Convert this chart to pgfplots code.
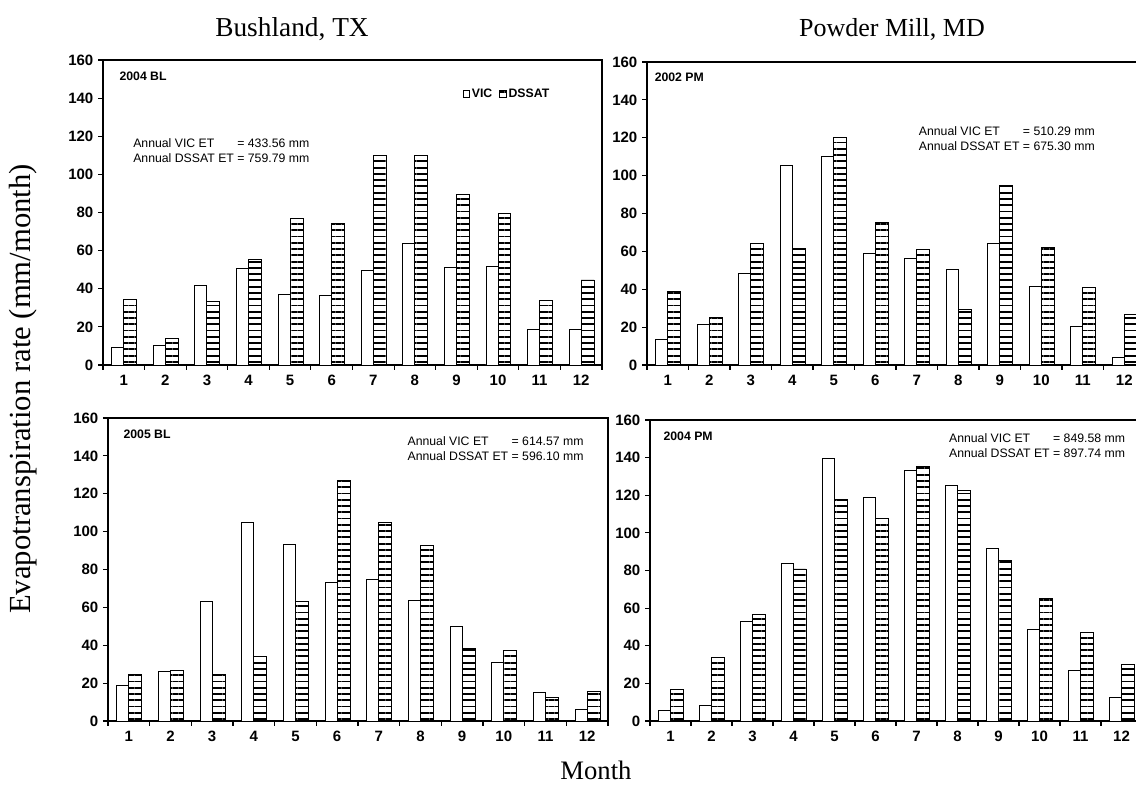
\documentclass[border=0pt]{standalone}
\usepackage{fontspec}
\setmainfont{Liberation Serif}
\newfontfamily\arial{Liberation Sans}
\usepackage{pgfplots}
\pgfplotsset{compat=1.18}
\usetikzlibrary{patterns.meta}

\newcommand\txt[4][]{\node[inner sep=0pt,#1] at ({#2*0.75pt},{(788-#3)*0.75pt}) {#4};}
\newcommand\annfont{\arial\fontsize{9.2}{11.25}\selectfont}
\newcommand\labfont{\arial\bfseries\fontsize{9.2}{11.25}\selectfont}

\pgfplotsset{
  panel/.style={
    scale only axis,
    xmin=0.5, xmax=12.5, ymin=0, ymax=160,
    xtick={0.5,1.5,2.5,3.5,4.5,5.5,6.5,7.5,8.5,9.5,10.5,11.5,12.5},
    x tick label as interval,
    xticklabels={1,2,3,4,5,6,7,8,9,10,11,12},
    ytick={0,20,40,60,80,100,120,140,160},
    xtick pos=bottom, ytick pos=left,
    tick align=outside,
    major tick length=3.75pt,
    every tick/.style={black, line width=0.8pt},
    axis line style={black, line width=0.8pt},
    /pgf/number format/assume math mode=true,
    ticklabel style={font=\arial\bfseries\fontsize{11.25}{13}\selectfont},
    clip=false,
  },
  vic/.style={ybar, bar width=0.29, bar shift=-0.145, fill=white, draw=black, line width=0.7pt},
  dssat/.style={ybar, bar width=0.31, bar shift=0.155, draw=black, line width=0.7pt,
    pattern={Lines[angle=0,distance=4.7pt,line width=1.4pt]}, pattern color=black},
}

\begin{document}
\begin{tikzpicture}
\useasboundingbox (0,0) rectangle (852pt,591pt);
\clip (0,0) rectangle (852pt,591pt);

% Top-left: 2004 BL
\begin{axis}[panel, at={(77.25pt,317.25pt)}, anchor=south west, width=374.25pt, height=228.75pt,
  legend style={draw=none, fill=none, at={(0.712,0.8885)}, anchor=west, legend columns=2,
    font=\labfont, nodes={inner sep=1.2pt},
    /tikz/every even column/.append style={column sep=4pt}},
  legend image code/.code={\draw[#1, draw=black, line width=0.6pt] (0pt,-2.6pt) rectangle (5.2pt,2.6pt);}]
\addplot[vic] coordinates {(1,9.3) (2,10.0) (3,41.6) (4,50.4) (5,37.1) (6,36.4) (7,49.5) (8,63.5) (9,51.3) (10,51.6) (11,18.7) (12,18.4)};
\addplot[dssat] coordinates {(1,34.5) (2,14.0) (3,33.2) (4,55.1) (5,77.0) (6,74.5) (7,109.8) (8,109.8) (9,89.4) (10,79.7) (11,33.8) (12,44.6)};
\legend{VIC,DSSAT}
\end{axis}

% Top-right: 2002 PM
\begin{axis}[panel, at={(485.25pt,317.25pt)}, anchor=south west, width=373.5pt, height=227.25pt]
\addplot[vic] coordinates {(1,13.6) (2,21.3) (3,48.2) (4,105.3) (5,110.1) (6,58.9) (7,56.3) (8,50.3) (9,64.0) (10,41.5) (11,20.6) (12,3.9)};
\addplot[dssat] coordinates {(1,38.6) (2,25.0) (3,64.2) (4,61.6) (5,120.0) (6,75.0) (7,61.2) (8,29.3) (9,94.9) (10,61.9) (11,41.1) (12,26.5)};
\end{axis}

% Bottom-left: 2005 BL
\begin{axis}[panel, at={(81pt,50.25pt)}, anchor=south west, width=375pt, height=227.25pt]
\addplot[vic] coordinates {(1,18.7) (2,26.4) (3,63.0) (4,104.9) (5,93.1) (6,73.1) (7,74.6) (8,63.7) (9,49.8) (10,31.0) (11,15.0) (12,6.3)};
\addplot[dssat] coordinates {(1,24.6) (2,26.6) (3,24.6) (4,34.0) (5,63.0) (6,126.9) (7,104.9) (8,92.6) (9,38.4) (10,37.3) (11,12.5) (12,15.8)};
\end{axis}

% Bottom-right: 2004 PM
\begin{axis}[panel, at={(487.5pt,50.25pt)}, anchor=south west, width=369pt, height=225.75pt]
\addplot[vic] coordinates {(1,5.5) (2,8.0) (3,52.8) (4,84.0) (5,139.3) (6,118.8) (7,133.4) (8,125.0) (9,91.7) (10,48.7) (11,27.0) (12,12.3)};
\addplot[dssat] coordinates {(1,16.9) (2,33.9) (3,56.7) (4,80.8) (5,117.8) (6,107.8) (7,135.2) (8,122.6) (9,85.3) (10,65.0) (11,46.9) (12,29.8)};
\end{axis}

% panel labels
\txt[anchor=base west,font=\labfont]{119.3}{81}{2004 BL}
\txt[anchor=base west,font=\labfont]{654.5}{82}{2002 PM}
\txt[anchor=base west,font=\labfont]{123.3}{438.3}{2005 BL}
\txt[anchor=base west,font=\labfont]{663.3}{440.8}{2004 PM}

% annotations
\txt[anchor=north west,font=\annfont]{133}{136.6}{\begin{tabular}[t]{@{}l@{}l@{}}Annual VIC ET & \ = 433.56 mm\\Annual DSSAT ET & \ = 759.79 mm\end{tabular}}
\txt[anchor=north west,font=\annfont]{918.6}{124.5}{\begin{tabular}[t]{@{}l@{}l@{}}Annual VIC ET & \ = 510.29 mm\\Annual DSSAT ET & \ = 675.30 mm\end{tabular}}
\txt[anchor=north west,font=\annfont]{407.3}{435.2}{\begin{tabular}[t]{@{}l@{}l@{}}Annual VIC ET & \ = 614.57 mm\\Annual DSSAT ET & \ = 596.10 mm\end{tabular}}
\txt[anchor=north west,font=\annfont]{948.8}{432}{\begin{tabular}[t]{@{}l@{}l@{}}Annual VIC ET & \ = 849.58 mm\\Annual DSSAT ET & \ = 897.74 mm\end{tabular}}

% titles
\txt[anchor=base,font=\fontsize{20.5}{24}\selectfont]{292}{37}{Bushland, TX}
\txt[anchor=base,font=\fontsize{19.5}{24}\selectfont]{892}{37}{Powder Mill, MD}
\txt[anchor=base,font=\fontsize{20}{24}\selectfont]{596}{780}{Month}
\txt[anchor=base,rotate=90,font=\fontsize{23}{27}\selectfont]{31}{389}{Evapotranspiration rate (mm/month)}
\end{tikzpicture}
\end{document}
